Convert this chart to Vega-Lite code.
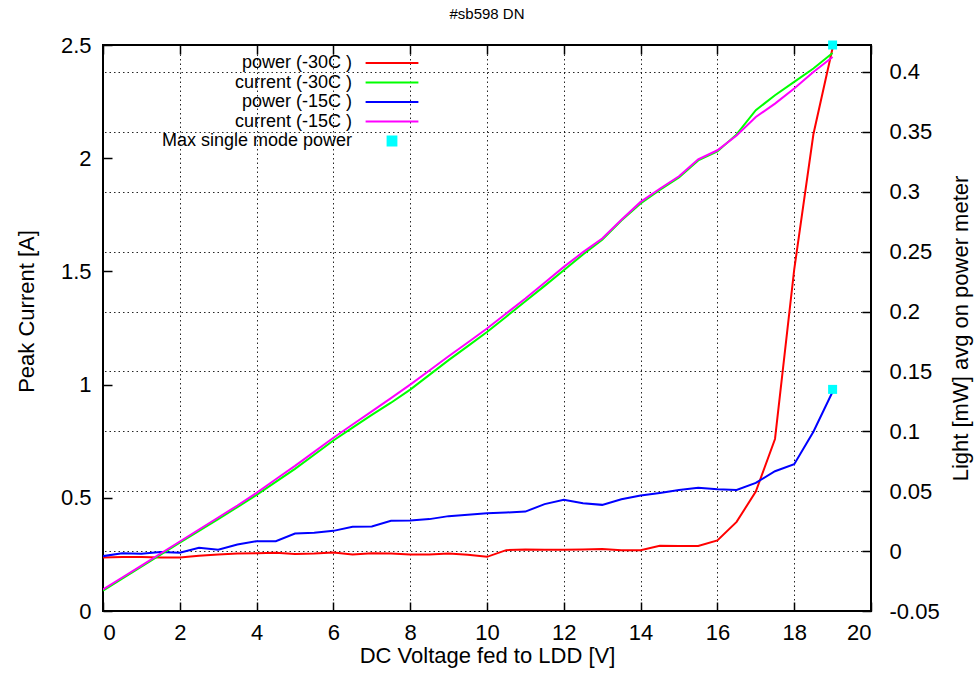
{
  "$schema": "https://vega.github.io/schema/vega-lite/v6.json",
  "width": 768,
  "height": 566,
  "autosize": {"type": "none"},
  "padding": {"left": 103, "top": 45, "right": 105, "bottom": 66},
  "background": "white",
  "title": {"text": "#sb598 DN", "fontSize": 15, "font": "Liberation Sans", "fontWeight": "normal", "color": "#000", "offset": 4, "dy": 7, "anchor": "middle", "frame": "group", "baseline": "bottom"},
  "config": {
    "font": "Liberation Sans",
    "view": {"stroke": "#000", "strokeWidth": 2},
    "axis": {
      "labelFont": "Liberation Sans", "labelFontSize": 22, "labelColor": "#000",
      "titleFont": "Liberation Sans", "titleFontSize": 22, "titleFontWeight": "normal", "titleColor": "#000",
      "domain": false, "tickColor": "#000", "tickWidth": 1.5, "tickSize": -9,
      "gridColor": "#000", "gridDash": [1.5, 3], "gridWidth": 1, "gridOpacity": 0.85
    }
  },
  "datasets": {
    "curves": [
      {"v": 0, "power (-30C )": -0.0053, "current (-30C )": 0.090, "power (-15C )": -0.0042, "current (-15C )": 0.095},
      {"v": 0.5, "power (-30C )": -0.0050, "current (-30C )": 0.143, "power (-15C )": -0.0017, "current (-15C )": 0.148},
      {"v": 1.0, "power (-30C )": -0.0050, "current (-30C )": 0.196, "power (-15C )": -0.0023, "current (-15C )": 0.200},
      {"v": 1.5, "power (-30C )": -0.0053, "current (-30C )": 0.249, "power (-15C )": -0.0008, "current (-15C )": 0.254},
      {"v": 2.0, "power (-30C )": -0.0053, "current (-30C )": 0.302, "power (-15C )": -0.0014, "current (-15C )": 0.307},
      {"v": 2.5, "power (-30C )": -0.0039, "current (-30C )": 0.354, "power (-15C )": 0.0028, "current (-15C )": 0.360},
      {"v": 3.0, "power (-30C )": -0.0028, "current (-30C )": 0.406, "power (-15C )": 0.0011, "current (-15C )": 0.413},
      {"v": 3.5, "power (-30C )": -0.0020, "current (-30C )": 0.459, "power (-15C )": 0.0055, "current (-15C )": 0.466},
      {"v": 4.0, "power (-30C )": -0.0017, "current (-30C )": 0.513, "power (-15C )": 0.0083, "current (-15C )": 0.522},
      {"v": 4.5, "power (-30C )": -0.0014, "current (-30C )": 0.570, "power (-15C )": 0.0083, "current (-15C )": 0.582},
      {"v": 5.0, "power (-30C )": -0.0025, "current (-30C )": 0.628, "power (-15C )": 0.0147, "current (-15C )": 0.641},
      {"v": 5.5, "power (-30C )": -0.0020, "current (-30C )": 0.690, "power (-15C )": 0.0153, "current (-15C )": 0.703},
      {"v": 6.0, "power (-30C )": -0.0011, "current (-30C )": 0.753, "power (-15C )": 0.0169, "current (-15C )": 0.765},
      {"v": 6.5, "power (-30C )": -0.0028, "current (-30C )": 0.810, "power (-15C )": 0.0203, "current (-15C )": 0.824},
      {"v": 7.0, "power (-30C )": -0.0017, "current (-30C )": 0.866, "power (-15C )": 0.0205, "current (-15C )": 0.882},
      {"v": 7.5, "power (-30C )": -0.0020, "current (-30C )": 0.920, "power (-15C )": 0.0253, "current (-15C )": 0.940},
      {"v": 8.0, "power (-30C )": -0.0028, "current (-30C )": 0.978, "power (-15C )": 0.0255, "current (-15C )": 1.000},
      {"v": 8.5, "power (-30C )": -0.0028, "current (-30C )": 1.043, "power (-15C )": 0.0267, "current (-15C )": 1.062},
      {"v": 9.0, "power (-30C )": -0.0020, "current (-30C )": 1.108, "power (-15C )": 0.0292, "current (-15C )": 1.125},
      {"v": 9.5, "power (-30C )": -0.0031, "current (-30C )": 1.170, "power (-15C )": 0.0303, "current (-15C )": 1.186},
      {"v": 10.0, "power (-30C )": -0.0048, "current (-30C )": 1.232, "power (-15C )": 0.0315, "current (-15C )": 1.248},
      {"v": 10.5, "power (-30C )": 0.0008, "current (-30C )": 1.300, "power (-15C )": 0.0322, "current (-15C )": 1.314},
      {"v": 11.0, "power (-30C )": 0.0014, "current (-30C )": 1.368, "power (-15C )": 0.0330, "current (-15C )": 1.380},
      {"v": 11.5, "power (-30C )": 0.0011, "current (-30C )": 1.436, "power (-15C )": 0.0392, "current (-15C )": 1.450},
      {"v": 12.0, "power (-30C )": 0.0011, "current (-30C )": 1.505, "power (-15C )": 0.0428, "current (-15C )": 1.520},
      {"v": 12.5, "power (-30C )": 0.0014, "current (-30C )": 1.575, "power (-15C )": 0.0400, "current (-15C )": 1.585},
      {"v": 13.0, "power (-30C )": 0.0017, "current (-30C )": 1.640, "power (-15C )": 0.0386, "current (-15C )": 1.645},
      {"v": 13.5, "power (-30C )": 0.0008, "current (-30C )": 1.725, "power (-15C )": 0.0433, "current (-15C )": 1.728},
      {"v": 14.0, "power (-30C )": 0.0008, "current (-30C )": 1.800, "power (-15C )": 0.0464, "current (-15C )": 1.807},
      {"v": 14.5, "power (-30C )": 0.0044, "current (-30C )": 1.860, "power (-15C )": 0.0486, "current (-15C )": 1.865},
      {"v": 15.0, "power (-30C )": 0.0042, "current (-30C )": 1.915, "power (-15C )": 0.0511, "current (-15C )": 1.920},
      {"v": 15.5, "power (-30C )": 0.0042, "current (-30C )": 1.990, "power (-15C )": 0.0528, "current (-15C )": 1.995},
      {"v": 16.0, "power (-30C )": 0.0089, "current (-30C )": 2.030, "power (-15C )": 0.0517, "current (-15C )": 2.035},
      {"v": 16.5, "power (-30C )": 0.0244, "current (-30C )": 2.105, "power (-15C )": 0.0511, "current (-15C )": 2.100},
      {"v": 17.0, "power (-30C )": 0.0497, "current (-30C )": 2.212, "power (-15C )": 0.0569, "current (-15C )": 2.182},
      {"v": 17.5, "power (-30C )": 0.0936, "current (-30C )": 2.278, "power (-15C )": 0.0667, "current (-15C )": 2.241},
      {"v": 18.0, "power (-30C )": 0.235, "current (-30C )": 2.337, "power (-15C )": 0.0725, "current (-15C )": 2.308},
      {"v": 18.5, "power (-30C )": 0.348, "current (-30C )": 2.396, "power (-15C )": 0.0997, "current (-15C )": 2.381},
      {"v": 19.0, "power (-30C )": 0.420, "current (-30C )": 2.465, "power (-15C )": 0.133, "current (-15C )": 2.447}
    ],
    "maxpts": [
      {"v": 19, "val": 0.4225, "series": "Max single mode power"},
      {"v": 19, "val": 0.135, "series": "Max single mode power"}
    ]
  },
  "resolve": {"scale": {"y": "independent"}, "axis": {"x": "independent"}},
  "layer": [
    {
      "layer": [
        {
          "data": {"name": "curves"},
          "transform": [{"fold": ["power (-30C )", "power (-15C )"], "as": ["series", "val"]}],
          "mark": {"type": "line", "strokeWidth": 2, "clip": true},
          "encoding": {
            "x": {"field": "v", "type": "quantitative", "scale": {"domain": [0, 20], "nice": false},
                  "axis": {"orient": "top", "values": [0, 2, 4, 6, 8, 10, 12, 14, 16, 18, 20], "labels": false, "grid": false, "title": null}},
            "y": {"field": "val", "type": "quantitative", "scale": {"domain": [-0.05, 0.4225], "nice": false, "zero": false},
                  "axis": {"orient": "right", "values": [-0.05, 0, 0.05, 0.1, 0.15, 0.2, 0.25, 0.3, 0.35, 0.4], "grid": true,
                           "labelExpr": "replace(format(datum.value, '~g'), '\u2212', '-')", "labelPadding": 27, "labelAlign": "left",
                           "title": "Light [mW] avg on power meter", "titleAngle": 270, "titlePadding": 33}},
            "color": {"field": "series", "type": "nominal",
                      "scale": {"domain": ["power (-30C )", "current (-30C )", "power (-15C )", "current (-15C )", "Max single mode power"],
                                "range": ["#ff0000", "#00ff00", "#0000ff", "#ff00ff", "#00ffff"]},
                      "legend": {
                        "orient": "none", "legendX": 280, "legendY": 9, "title": null, "padding": 0,
                        "symbolType": "stroke", "symbolSize": 256, "symbolStrokeWidth": 2,
                        "labelFont": "Liberation Sans", "labelFontSize": 18, "labelColor": "#000", "labelLimit": 400,
                        "labelAlign": "right", "labelOffset": -49, "rowPadding": 1.5,
                        "encode": {"symbols": {"update": {
                          "shape": {"signal": "datum.value === 'Max single mode power' ? 'M-0.55,-0.55H0.55V0.55H-0.55Z' : 'M-3.3,0H3.3'"},
                          "fill": {"signal": "datum.value === 'Max single mode power' ? '#00ffff' : 'transparent'"},
                          "stroke": {"signal": "datum.value === 'Max single mode power' ? 'transparent' : datum.value === 'power (-30C )' ? '#ff0000' : datum.value === 'current (-30C )' ? '#00ff00' : datum.value === 'power (-15C )' ? '#0000ff' : '#ff00ff'"},
                          "strokeWidth": {"value": 2},
                          "opacity": {"value": 1}
                        }}}
                      }}
          }
        },
        {
          "data": {"name": "maxpts"},
          "mark": {"type": "point", "shape": "square", "filled": true, "size": 81, "opacity": 1, "clip": false},
          "encoding": {
            "x": {"field": "v", "type": "quantitative", "scale": {"domain": [0, 20], "nice": false},
                  "axis": {"orient": "top", "values": [0, 2, 4, 6, 8, 10, 12, 14, 16, 18, 20], "labels": false, "grid": false, "title": null}},
            "y": {"field": "val", "type": "quantitative", "scale": {"domain": [-0.05, 0.4225], "nice": false, "zero": false},
                  "axis": {"orient": "right", "values": [-0.05, 0, 0.05, 0.1, 0.15, 0.2, 0.25, 0.3, 0.35, 0.4], "grid": true,
                           "labelExpr": "replace(format(datum.value, '~g'), '\u2212', '-')", "labelPadding": 27, "labelAlign": "left",
                           "title": "Light [mW] avg on power meter", "titleAngle": 270, "titlePadding": 33}},
            "color": {"field": "series", "type": "nominal"}
          }
        }
      ]
    },
    {
      "data": {"name": "curves"},
      "transform": [{"fold": ["current (-30C )", "current (-15C )"], "as": ["series", "val"]}],
      "mark": {"type": "line", "strokeWidth": 2, "clip": true},
      "encoding": {
        "x": {"field": "v", "type": "quantitative", "scale": {"domain": [0, 20], "nice": false},
              "axis": {"orient": "bottom", "values": [0, 2, 4, 6, 8, 10, 12, 14, 16, 18, 20], "grid": true, "labelPadding": 20,
                       "title": "DC Voltage fed to LDD [V]", "titlePadding": 2}},
        "y": {"field": "val", "type": "quantitative", "scale": {"domain": [0, 2.5], "nice": false},
              "axis": {"orient": "left", "values": [0, 0.5, 1, 1.5, 2, 2.5], "grid": false, "format": "~g", "labelPadding": 21,
                       "title": "Peak Current [A]", "titlePadding": 22, "titleY": 266}},
        "color": {"field": "series", "type": "nominal"}
      }
    }
  ]
}
